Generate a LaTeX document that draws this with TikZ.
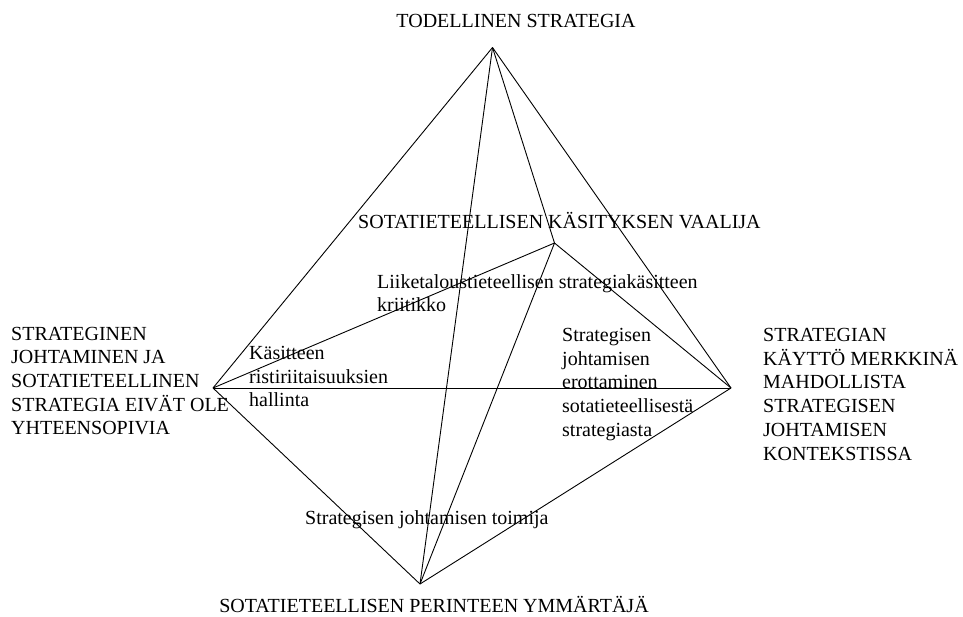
\documentclass[tikz,border=0pt]{standalone}
\usepackage{fontspec}
\setmainfont{Liberation Serif}
\begin{document}
\begin{tikzpicture}[x=1pt,y=-1pt,
  % multi-line labels are anchored at the baseline of their last line
  lbl/.style={inner sep=0pt, font=\fontsize{20}{23.7}\selectfont, align=left, anchor=base west},
  ttl/.style={inner sep=0pt, font=\fontsize{20}{23.7}\selectfont, anchor=base},
  edge/.style={line width=0.9pt, black}]
\useasboundingbox (0,0) rectangle (963,616);

% corners of the pyramid
\coordinate (T) at (492.5,47.5);
\coordinate (L) at (213,388);
\coordinate (R) at (731,388);
\coordinate (B) at (420,584);
\coordinate (M) at (554.5,243);

% edges
\draw[edge] (T) -- (L);
\draw[edge] (T) -- (R);
\draw[edge] (T) -- (B);
\draw[edge] (T) -- (M);
\draw[edge] (L) -- (R);
\draw[edge] (L) -- (M);
\draw[edge] (M) -- (R);
\draw[edge] (M) -- (B);
\draw[edge] (L) -- (B);
\draw[edge] (B) -- (R);

% labels
\node[ttl] (top) at (516,27.3) {TODELLINEN STRATEGIA};
\node[lbl] (mid) at (358,228.3) {SOTATIETEELLISEN KÄSITYKSEN VAALIJA};
\node[lbl] (crit) at (377,311.7) {Liiketaloustieteellisen strategiakäsitteen\\kriitikko};
\node[lbl] (left) at (11,434.8) {STRATEGINEN\\JOHTAMINEN JA\\SOTATIETEELLINEN\\STRATEGIA EIVÄT OLE\\YHTEENSOPIVIA};
\node[lbl] (conc) at (249,406.7) {Käsitteen\\ristiriitaisuuksien\\hallinta};
\node[lbl] (sep) at (562,436.3) {Strategisen\\johtamisen\\erottaminen\\sotatieteellisestä\\strategiasta};
\node[lbl] (right) at (763,460) {STRATEGIAN\\KÄYTTÖ MERKKINÄ\\MAHDOLLISTA\\STRATEGISEN\\JOHTAMISEN\\KONTEKSTISSA};
\node[lbl] (actor) at (305,524) {Strategisen johtamisen toimija};
\node[ttl] (bottom) at (434,612.5) {SOTATIETEELLISEN PERINTEEN YMMÄRTÄJÄ};
\end{tikzpicture}
\end{document}
